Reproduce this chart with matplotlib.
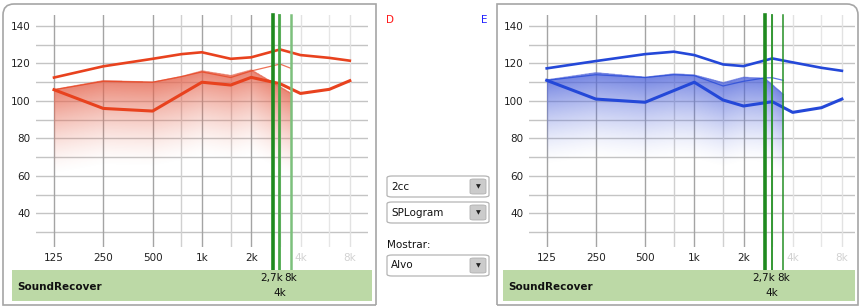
import matplotlib.pyplot as plt
import numpy as np
from matplotlib.patches import FancyBboxPatch, Rectangle
from matplotlib.path import Path
from matplotlib.patches import PathPatch

W, H = 860, 307

# frequency axis labels
tick_freqs = [125, 250, 500, 1000, 2000, 4000, 8000]
tick_labels = ['125', '250', '500', '1k', '2k', '4k', '8k']
minor_freqs = [750, 1500, 3000, 6000]

# right ear (D, red)
f_main = [125, 250, 500, 750, 1000, 1500, 2000, 3000, 4000, 6000, 8000]
red_upper = [112.5, 118.5, 122.5, 125.0, 126.0, 122.5, 123.3, 127.5, 124.5, 123.0, 121.5]
f_red_low = [125, 250, 500, 1000, 1500, 2000, 3000, 4000, 6000, 8000]
red_lower = [106, 96, 94.6, 110, 108.5, 112.6, 109.2, 104, 106.2, 110.8]
f_red_thin = [125, 250, 500, 750, 1000, 1500, 2000, 3000, 3500]
red_thin = [106, 110.5, 110, 113, 115.5, 112.5, 116, 119.7, 117.4]
f_red_fill = [125, 250, 500, 750, 1000, 1500, 2000, 3500]
red_fill = [106, 110.8, 110, 113, 116, 113.5, 116.5, 104]

# left ear (E, blue)
blue_upper = [117.4, 121.3, 125.0, 126.3, 124.5, 119.5, 118.6, 122.7, 120.6, 117.7, 116.1]
f_blue_low = [125, 250, 500, 1000, 1500, 2000, 2700, 3000, 4000, 6000, 8000]
blue_lower = [111, 101, 99.3, 110, 100.5, 97.3, 99, 99.6, 93.9, 96.4, 101]
f_blue_thin = [125, 250, 500, 750, 1000, 1500, 2000, 2700, 3000, 3500]
blue_thin = [111, 114, 112.5, 114, 113.5, 108, 110.5, 112.3, 112.4, 111]
f_blue_fill = [125, 250, 500, 750, 1000, 1500, 2000, 2700, 3500]
blue_fill = [111.2, 115, 112.6, 114.4, 113.8, 109.7, 112.6, 112, 103.5]

# SoundRecover markers
sr_freqs = [2700, 2970, 3500]
sr_labels = ['2,7k', '4k', '8k']


def oct_(f):
    return np.log2(np.asarray(f, dtype=float) / 125.0)


def fbox(x0, y0, x1, y1):
    return [x0 / W, 1 - y1 / H, (x1 - x0) / W, (y1 - y0) / H]


def fx(x):
    return x / W


def fy(y):
    return 1 - y / H


fig = plt.figure(figsize=(8.6, 3.07), dpi=100)
fig.patch.set_facecolor('white')
plt.rcParams['font.family'] = 'DejaVu Sans'


def frame(x0, y0, x1, y1, rounded):
    r = 11
    if rounded == 'left':
        verts = [(x1, y1), (x1, y0), (x0 + r, y0), (x0, y0), (x0, y0 + r), (x0, y1), (x1, y1)]
    else:
        verts = [(x0, y1), (x0, y0), (x1 - r, y0), (x1, y0), (x1, y0 + r), (x1, y1), (x0, y1)]
    codes = [Path.MOVETO, Path.LINETO, Path.LINETO, Path.CURVE3, Path.CURVE3, Path.LINETO, Path.LINETO]
    verts = [(fx(a), fy(b)) for a, b in verts]
    fig.patches.append(PathPatch(Path(verts, codes), transform=fig.transFigure,
                                 fill=False, edgecolor='#a6a6a6', lw=1.2, joinstyle='miter'))


def panel(px0, px1, x125, ppo, color, fillrgb, upper, f_low, lower, f_thin, thin,
          f_fill, fill, green_cols, green_lws, band):
    ax = fig.add_axes(fbox(px0, 15, px1, 247))
    xmin = (px0 - x125) / ppo
    xmax = (px1 - x125) / ppo
    ax.set_xlim(xmin, xmax)
    ax.set_ylim(22, 145.9)
    for s in ax.spines.values():
        s.set_visible(False)

    for y in range(30, 141, 10):
        ax.axhline(y, color='#c4c4c4', lw=1, zorder=1)
    for f in tick_freqs:
        c = '#a4a4a4' if f <= 2000 else '#e2e2e2'
        ax.axvline(oct_(f), color=c, lw=1, zorder=1)
    for f in minor_freqs:
        c = '#d0d0d0' if f <= 1500 else '#e6e6e6'
        ax.axvline(oct_(f), color=c, lw=1, zorder=1)

    ax.set_xticks(oct_(tick_freqs))
    ax.set_xticklabels(tick_labels)
    ax.set_yticks([40, 60, 80, 100, 120, 140])
    ax.tick_params(length=0, labelsize=7.5, colors='#222222', pad=4)
    for lab, f in zip(ax.get_xticklabels(), tick_freqs):
        if f > 2000:
            lab.set_color('#d2d2d2')

    # gradient fill below the band top
    gx = np.linspace(0, oct_(f_fill[-1]), 300)
    gy = np.linspace(22, 120, 300)
    top = np.interp(gx, oct_(f_fill), fill)
    d = top[None, :] - gy[:, None]
    depth = 46.0
    a = np.clip(1 - d / depth, 0, 1) ** 1.5 * 0.8
    a[d < 0] = 0
    img = np.zeros((len(gy), len(gx), 4))
    img[..., 0] = fillrgb[0]
    img[..., 1] = fillrgb[1]
    img[..., 2] = fillrgb[2]
    img[..., 3] = a
    ax.imshow(img, extent=[gx[0], gx[-1], gy[0], gy[-1]], origin='lower',
              aspect='auto', interpolation='bilinear', zorder=2)
    ax.plot(oct_(f_fill), fill, color=fillrgb, lw=1, alpha=0.6, zorder=3)

    ax.plot(oct_(f_main), upper, color=color, lw=1.9, zorder=4)
    ax.plot(oct_(f_low), lower, color=color, lw=2.2, zorder=4)
    ax.plot(oct_(f_thin), thin, color=color, lw=0.9, alpha=0.75, zorder=4)

    ymin = -23 / 232
    for f, c, lw in zip(sr_freqs, green_cols, green_lws):
        ax.axvline(oct_(f), ymin=ymin, ymax=1, color=c, lw=lw, zorder=5, clip_on=False)

    # SoundRecover band
    bx0, bx1 = band
    fig.patches.append(Rectangle((fx(bx0), fy(301)), (bx1 - bx0) / W, 31 / H,
                                 transform=fig.transFigure, facecolor='#bcd9a6',
                                 edgecolor='none', zorder=0))
    fig.text(fx(bx0 + 5), fy(287), 'SoundRecover', fontsize=7.5, fontweight='bold',
             color='#111111', va='center', ha='left')
    gpx = [x125 + ppo * oct_(f) for f in sr_freqs]
    fig.text(fx(gpx[0] - 1), fy(278), sr_labels[0], fontsize=7.5, ha='center', va='center',
             color='#111111')
    fig.text(fx(gpx[1]), fy(293), sr_labels[1], fontsize=7.5, ha='center', va='center',
             color='#111111')
    fig.text(fx(gpx[2]), fy(278), sr_labels[2], fontsize=7.5, ha='center', va='center',
             color='#111111')
    return ax


frame(3, 4, 376, 305, 'left')
frame(497, 4, 858, 305, 'right')

panel(36, 368, 54, 49.3, '#e8421e', (0.90, 0.40, 0.31),
      red_upper, f_red_low, red_lower, f_red_thin, red_thin, f_red_fill, red_fill,
      ['#1f8a1f', '#4aa84a', '#7cc07c'], [2.6, 2.0, 1.8], (12, 372))
panel(529, 855, 546.7, 49.2, '#2448d8', (0.32, 0.40, 0.86),
      blue_upper, f_blue_low, blue_lower, f_blue_thin, blue_thin, f_blue_fill, blue_fill,
      ['#1f8a1f', '#249024', '#249024'], [2.6, 1.3, 1.1], (503, 855))

fig.text(fx(390), fy(20), 'D', color='#ff1a1a', fontsize=7.5, ha='center', va='center')
fig.text(fx(484), fy(20), 'E', color='#2020ff', fontsize=7.5, ha='center', va='center')


def dropdown(y0, y1, label):
    fig.patches.append(FancyBboxPatch((fx(387), fy(y1)), 102 / W, (y1 - y0) / H,
                                      boxstyle='round,pad=0,rounding_size=0.006',
                                      transform=fig.transFigure, facecolor='white',
                                      edgecolor='#b4b4b4', lw=0.9))
    fig.patches.append(FancyBboxPatch((fx(470), fy(y1 - 3)), 16 / W, (y1 - y0 - 6) / H,
                                      boxstyle='round,pad=0,rounding_size=0.004',
                                      transform=fig.transFigure, facecolor='#cbcbcb',
                                      edgecolor='#b0b0b0', lw=0.6))
    fig.text(fx(478), fy((y0 + y1) / 2 + 0.5), '\u25bc', fontsize=4.5, ha='center',
             va='center', color='#222222')
    fig.text(fx(391), fy((y0 + y1) / 2), label, fontsize=7.5, ha='left', va='center',
             color='#111111')


dropdown(176, 197, '2cc')
dropdown(202, 223, 'SPLogram')
fig.text(fx(387), fy(245), 'Mostrar:', fontsize=7.5, ha='left', va='center', color='#111111')
dropdown(255, 276, 'Alvo')

plt.savefig('out.png', dpi=100)
